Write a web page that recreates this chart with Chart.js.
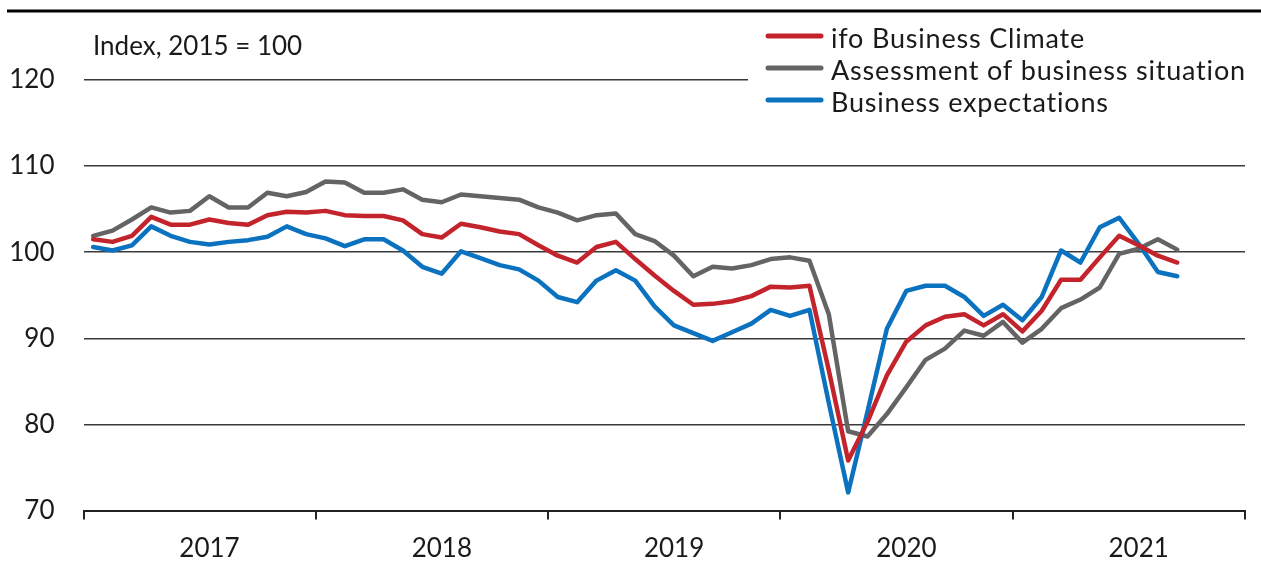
<!DOCTYPE html>
<html>
<head>
<meta charset="utf-8">
<script src="https://cdn.jsdelivr.net/npm/chart.js@4.4.1/dist/chart.umd.min.js"></script>
<style>
  html, body { margin: 0; padding: 0; background: #fff; }
  canvas { display: block; }
</style>
</head>
<body>
<canvas id="chart_ifo" width="1261" height="563"></canvas>
<script>
// monthly values, Jan 2017 .. Sep 2021 (index 2015 = 100)
const climate = [
  101.5, 101.2, 101.9, 104.1, 103.2, 103.2, 103.8, 103.4, 103.2, 104.3, 104.7, 104.6,
  104.8, 104.3, 104.2, 104.2, 103.7, 102.1, 101.7, 103.3, 102.9, 102.4, 102.1, 100.8,
  99.6, 98.8, 100.6, 101.2, 99.2, 97.3, 95.5, 93.9, 94.0, 94.3, 94.9, 96.0,
  95.9, 96.1, 86.3, 75.8, 80.3, 85.7, 89.6, 91.5, 92.5, 92.8, 91.5, 92.8,
  90.8, 93.2, 96.8, 96.8, 99.4, 101.9, 100.8, 99.6, 98.8
];
const situation = [
  101.9, 102.5, 103.8, 105.2, 104.6, 104.8, 106.5, 105.2, 105.2, 106.9, 106.5, 107.0,
  108.2, 108.1, 106.9, 106.9, 107.3, 106.1, 105.8, 106.7, 106.5, 106.3, 106.1, 105.2,
  104.6, 103.7, 104.3, 104.5, 102.1, 101.3, 99.6, 97.2, 98.3, 98.1, 98.5, 99.2,
  99.4, 99.0, 92.8, 79.2, 78.6, 81.2, 84.3, 87.5, 88.8, 90.9, 90.3, 91.9,
  89.5, 91.1, 93.5, 94.5, 95.9, 99.8, 100.4, 101.5, 100.3
];
const expectations = [
  100.6, 100.2, 100.8, 103.0, 101.9, 101.2, 100.9, 101.2, 101.4, 101.8, 103.0, 102.1,
  101.6, 100.7, 101.5, 101.5, 100.2, 98.3, 97.5, 100.1, 99.3, 98.5, 98.0, 96.7,
  94.8, 94.2, 96.7, 97.9, 96.7, 93.7, 91.5, 90.6, 89.7, 90.7, 91.7, 93.3,
  92.6, 93.3, 82.5, 72.1, 81.5, 91.1, 95.5, 96.1, 96.1, 94.8, 92.6, 93.9,
  92.1, 94.8, 100.2, 98.8, 102.9, 104.0, 101.0, 97.7, 97.2
];
const yearLabels = ['2017', '2018', '2019', '2020', '2021'];
const yearTicks = [0, 12, 24, 36, 48, 60];   // month boundaries
const yTicks = [70, 80, 90, 100, 110, 120];
const seriesNames = ['ifo Business Climate', 'Assessment of business situation', 'Business expectations'];
const seriesColors = ['#C3242C', '#646464', '#0A72BF'];
const unitNote = 'Index, 2015 = 100';

const FONT = 'Lato, Calibri, "Open Sans", sans-serif';

// points sit in the middle of each month
function toPoints(values) {
  return values.map((v, i) => ({ x: i + 0.5, y: v }));
}

// rule on top, unit note and legend box
const overlay = {
  id: 'overlay',
  afterDraw(chart) {
    const ctx = chart.ctx;
    ctx.save();
    ctx.fillStyle = '#000';
    ctx.fillRect(7, 9.5, 1254, 3);

    ctx.fillStyle = '#fff';
    ctx.fillRect(748, 20, 513, 100);

    ctx.font = '26px ' + FONT;
    ctx.fillStyle = '#1a1a1a';
    ctx.textBaseline = 'alphabetic';
    ctx.fillText(unitNote, 93, 55);

    ctx.font = '27px ' + FONT;
    ctx.letterSpacing = '0.8px';
    seriesNames.forEach((name, i) => {
      const y = 36 + i * 32;
      ctx.strokeStyle = seriesColors[i];
      ctx.lineWidth = 5;
      ctx.lineCap = 'round';
      ctx.beginPath();
      ctx.moveTo(768, y);
      ctx.lineTo(821, y);
      ctx.stroke();
      ctx.fillStyle = '#1a1a1a';
      ctx.fillText(name, 831, y + 12);
    });
    ctx.restore();
  }
};

const line = (i, values, order) => ({
  label: seriesNames[i],
  data: toPoints(values),
  borderColor: seriesColors[i],
  backgroundColor: seriesColors[i],
  borderWidth: 4.5,
  borderJoinStyle: 'round',
  borderCapStyle: 'round',
  pointRadius: 0,
  tension: 0,
  order: order
});

new Chart(document.getElementById('chart_ifo').getContext('2d'), {
  type: 'line',
  data: {
    datasets: [
      line(0, climate, 0),
      line(2, expectations, 1),
      line(1, situation, 2)
    ]
  },
  options: {
    responsive: false,
    animation: false,
    devicePixelRatio: 1,
    layout: { padding: { top: 80, right: 16, left: 0, bottom: 0 } },
    plugins: { legend: { display: false }, tooltip: { enabled: false } },
    scales: {
      x: {
        type: 'linear',
        min: 0,
        max: 60,
        afterBuildTicks: (s) => { s.ticks = yearTicks.map(v => ({ value: v })); },
        afterFit: (s) => { s.height = 52.5; },
        ticks: {
          autoSkip: false,
          maxRotation: 0,
          labelOffset: 126,
          padding: 14,
          color: '#1a1a1a',
          font: { family: FONT, size: 26 },
          callback: (v, idx) => yearLabels[idx] || ''
        },
        grid: { drawOnChartArea: false, drawTicks: true, tickLength: 9, color: '#222', lineWidth: 2 },
        border: { color: '#222', width: 2 }
      },
      y: {
        min: 70,
        max: 120,
        afterBuildTicks: (s) => { s.ticks = yTicks.map(v => ({ value: v })); },
        afterFit: (s) => { s.width = 83.5; },
        ticks: {
          padding: 29,
          color: '#1a1a1a',
          font: { family: FONT, size: 26 }
        },
        grid: { color: '#3a3a3a', lineWidth: 1.5, drawTicks: false },
        border: { display: false }
      }
    }
  },
  plugins: [overlay]
});
</script>
</body>
</html>
